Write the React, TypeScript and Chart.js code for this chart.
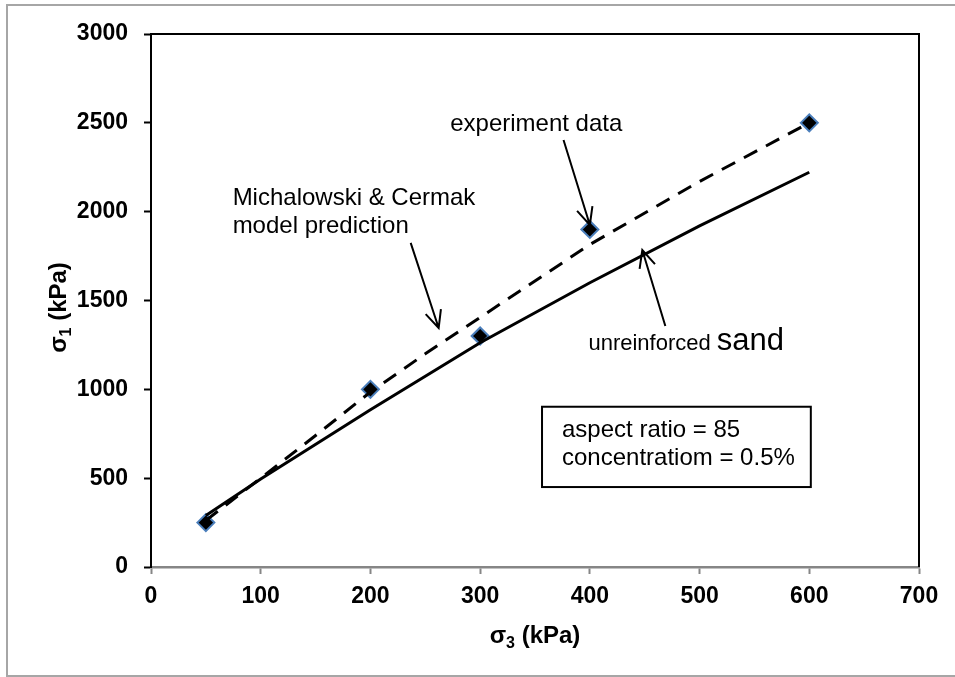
import React, { useEffect, useRef } from "react";
import { Chart, registerables } from "chart.js";

Chart.register(...registerables);

// ---- data ----
const xTicks = [0, 100, 200, 300, 400, 500, 600, 700];
const yTicks = [0, 500, 1000, 1500, 2000, 2500, 3000];

const experimentX = [50, 200, 300, 400, 600];
const experimentY = [250, 1000, 1300, 1900, 2500];

const modelX = [50, 100, 150, 200, 250, 300, 400, 500, 600];
const modelY = [262, 500, 740, 985, 1200, 1405, 1815, 2170, 2500];

const sandX = [50, 100, 200, 300, 400, 500, 600];
const sandY = [290, 495, 885, 1262, 1600, 1920, 2222];

const FONT = "'Liberation Sans', Arial, sans-serif";

// annotation anchors (data units)
const experimentLabel = { text: "experiment data", x: 429.6, y: 2456 };
const experimentArrow = { x1: 376, y1: 2403, x2: 400, y2: 1925 };
const modelLabel = { lines: ["Michalowski & Cermak", "model prediction"], x: 74.4, y: [2037, 1881] };
const modelArrow = { x1: 236.7, y1: 1824, x2: 262.2, y2: 1345 };
const sandLabel = { small: "unreinforced ", big: "sand", x: 398.7, y: 1221 };
const sandArrow = { x1: 468.8, y1: 1356, x2: 447.8, y2: 1784 };
const infoBox = { lines: ["aspect ratio = 85", "concentratiom = 0.5%"], x: 356.4, top: 902, bottom: 450, y: [730, 574] };

function drawArrow(ctx: CanvasRenderingContext2D, x1: number, y1: number, x2: number, y2: number) {
  const ang = Math.atan2(y2 - y1, x2 - x1);
  const len = 19;
  const half = (25 * Math.PI) / 180;
  ctx.beginPath();
  ctx.moveTo(x1, y1);
  ctx.lineTo(x2, y2);
  ctx.moveTo(x2 - len * Math.cos(ang - half), y2 - len * Math.sin(ang - half));
  ctx.lineTo(x2, y2);
  ctx.lineTo(x2 - len * Math.cos(ang + half), y2 - len * Math.sin(ang + half));
  ctx.stroke();
}

const decorPlugin = {
  id: "decor",
  beforeDraw(chart: any) {
    const ctx = chart.ctx as CanvasRenderingContext2D;
    ctx.save();
    ctx.fillStyle = "#ffffff";
    ctx.fillRect(0, 0, chart.width, chart.height);
    ctx.strokeStyle = "#a6a6a6";
    ctx.lineWidth = 2;
    ctx.strokeRect(7, 5, chart.width, chart.height - 6);
    ctx.restore();
  },
  afterDraw(chart: any) {
    const ctx = chart.ctx as CanvasRenderingContext2D;
    const { chartArea } = chart;
    const xs = chart.scales.x;
    const ys = chart.scales.y;
    const px = (v: number) => xs.getPixelForValue(v);
    const py = (v: number) => ys.getPixelForValue(v);
    ctx.save();

    // top & right frame
    ctx.strokeStyle = "#000";
    ctx.lineWidth = 2;
    ctx.beginPath();
    ctx.moveTo(chartArea.left - 1, chartArea.top);
    ctx.lineTo(chartArea.right, chartArea.top);
    ctx.lineTo(chartArea.right, chartArea.bottom);
    ctx.stroke();

    // axis titles with subscripts
    const drawTitle = (sub: string, cx: number, cy: number, rotate: boolean) => {
      ctx.save();
      ctx.translate(cx, cy);
      if (rotate) ctx.rotate(-Math.PI / 2);
      ctx.fillStyle = "#000";
      ctx.textBaseline = "alphabetic";
      ctx.textAlign = "left";
      const big = `bold 24px ${FONT}`;
      const small = `bold 16px ${FONT}`;
      ctx.font = big;
      const w1 = ctx.measureText("σ").width;
      const w3 = ctx.measureText(" (kPa)").width;
      ctx.font = small;
      const w2 = ctx.measureText(sub).width;
      const total = w1 + w2 + w3;
      let x = -total / 2;
      const base = 8;
      ctx.font = big;
      ctx.fillText("σ", x, base);
      x += w1;
      ctx.font = small;
      ctx.fillText(sub, x, base + 5);
      x += w2;
      ctx.font = big;
      ctx.fillText(" (kPa)", x, base);
      ctx.restore();
    };
    drawTitle("3", (chartArea.left + chartArea.right) / 2, 635, false);
    drawTitle("1", 58, (chartArea.top + chartArea.bottom) / 2 + 7, true);

    // annotation texts
    ctx.fillStyle = "#000";
    ctx.textBaseline = "alphabetic";
    ctx.font = `24px ${FONT}`;
    ctx.textAlign = "right";
    ctx.fillText(experimentLabel.text, px(experimentLabel.x), py(experimentLabel.y));
    ctx.textAlign = "left";
    modelLabel.lines.forEach((t, i) => ctx.fillText(t, px(modelLabel.x), py(modelLabel.y[i])));
    ctx.font = `22px ${FONT}`;
    ctx.fillText(sandLabel.small, px(sandLabel.x), py(sandLabel.y));
    const ws = ctx.measureText(sandLabel.small).width;
    ctx.font = `31px ${FONT}`;
    ctx.fillText(sandLabel.big, px(sandLabel.x) + ws, py(sandLabel.y));

    // arrows
    ctx.strokeStyle = "#000";
    ctx.lineWidth = 2;
    ctx.lineCap = "butt";
    for (const a of [experimentArrow, modelArrow, sandArrow]) {
      drawArrow(ctx, px(a.x1), py(a.y1), px(a.x2), py(a.y2));
    }

    // info box
    ctx.font = `24px ${FONT}`;
    const bx = px(infoBox.x);
    const padL = 20;
    const padR = 16;
    let maxW = 0;
    infoBox.lines.forEach((t) => (maxW = Math.max(maxW, ctx.measureText(t).width)));
    const bTop = py(infoBox.top);
    const bBot = py(infoBox.bottom);
    ctx.fillStyle = "#fff";
    ctx.fillRect(bx, bTop, maxW + padL + padR, bBot - bTop);
    ctx.strokeStyle = "#000";
    ctx.lineWidth = 2;
    ctx.strokeRect(bx, bTop, maxW + padL + padR, bBot - bTop);
    ctx.fillStyle = "#000";
    infoBox.lines.forEach((t, i) => ctx.fillText(t, bx + padL, py(infoBox.y[i])));

    ctx.restore();
  },
};

export default function App() {
  const ref = useRef<HTMLCanvasElement | null>(null);
  useEffect(() => {
    document.body.style.margin = "0";
    const canvas = ref.current;
    if (!canvas) return;
    const chart = new Chart(canvas, {
      type: "scatter",
      data: {
        datasets: [
          {
            label: "unreinforced sand",
            type: "line",
            data: sandX.map((x, i) => ({ x, y: sandY[i] })),
            borderColor: "#000",
            borderWidth: 3,
            pointRadius: 0,
            fill: false,
            tension: 0,
            order: 0,
          },
          {
            label: "Michalowski & Cermak",
            type: "line",
            data: modelX.map((x, i) => ({ x, y: modelY[i] })),
            borderColor: "#000",
            borderWidth: 3,
            borderDash: [15, 10],
            pointRadius: 0,
            fill: false,
            tension: 0,
            order: 0,
          },
          {
            label: "experiment data",
            data: experimentX.map((x, i) => ({ x, y: experimentY[i] })),
            pointStyle: "rectRot",
            pointRadius: 8.5,
            pointBackgroundColor: "#000",
            pointBorderColor: "#4a7ebb",
            pointBorderWidth: 2,
            showLine: false,
            order: 1,
          },
        ],
      },
      options: {
        animation: false,
        responsive: false,
        events: [],
        layout: { padding: { left: 0, right: 36, top: 34, bottom: 0 } },
        plugins: { legend: { display: false }, tooltip: { enabled: false } },
        scales: {
          x: {
            type: "linear",
            min: xTicks[0],
            max: xTicks[xTicks.length - 1],
            afterBuildTicks: (s: any) => {
              s.ticks = xTicks.map((v) => ({ value: v }));
            },
            afterFit: (s: any) => {
              s.height = 110;
            },
            grid: { drawOnChartArea: false, drawTicks: true, tickLength: 7, tickColor: "#868686", tickWidth: 2 },
            border: { display: true, color: "#868686", width: 2.5 },
            ticks: {
              color: "#000",
              padding: 9,
              maxRotation: 0,
              callback: (v: any) => String(v),
              font: { family: FONT, size: 23, weight: "bold" },
            },
          },
          y: {
            type: "linear",
            min: yTicks[0],
            max: yTicks[yTicks.length - 1],
            afterBuildTicks: (s: any) => {
              s.ticks = yTicks.map((v) => ({ value: v }));
            },
            afterFit: (s: any) => {
              s.width = 151;
            },
            grid: { drawOnChartArea: false, drawTicks: true, tickLength: 7, tickColor: "#000", tickWidth: 2 },
            border: { display: true, color: "#000", width: 2 },
            ticks: {
              color: "#000",
              padding: 16,
              callback: (v: any) => String(v),
              font: { family: FONT, size: 23, weight: "bold" },
            },
          },
        },
      },
      plugins: [decorPlugin],
    } as any);
    return () => chart.destroy();
  }, []);
  return (
    <div style={{ width: 955, height: 677 }}>
      <canvas ref={ref} width={955} height={677} style={{ display: "block" }} />
    </div>
  );
}
